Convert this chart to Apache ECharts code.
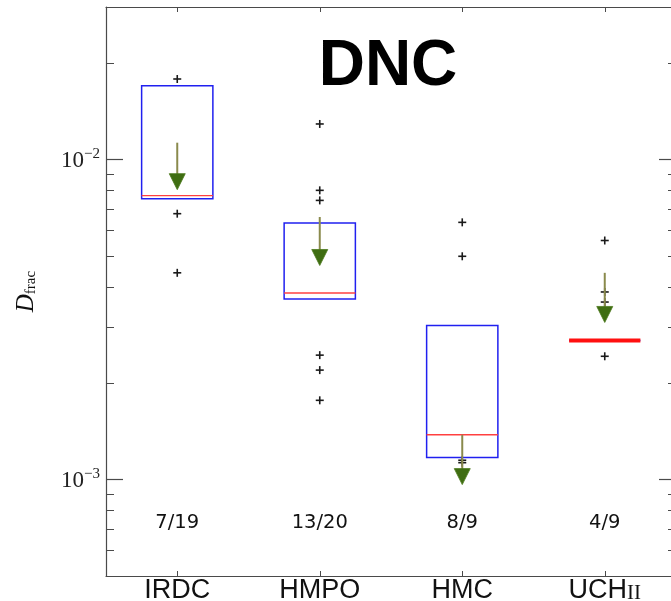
<!DOCTYPE html>
<html>
<head>
<meta charset="utf-8">
<script src="https://cdn.jsdelivr.net/npm/echarts@6/dist/echarts.min.js"></script>
<style>
  html, body { margin: 0; padding: 0; background: #fff; }
  #chart { width: 671px; height: 601px; }
</style>
</head>
<body>
<div id="chart"></div>
<script>
// Source classes along the evolutionary sequence
const categories = ['IRDC', 'HMPO', 'HMC', 'UCHII'];
// Detection statistics printed under each class
const detections = ['7/19', '13/20', '8/9', '4/9'];

// Box edges (lower / upper quartile) and medians of D_frac
const boxLower = [0.00755, 0.00367, 0.001174, 0.00272];
const boxUpper = [0.01702, 0.00634, 0.00303, 0.00272];
const medians  = [0.00772, 0.00383, 0.001382, 0.00272];

// Individual sources, drawn as crosses
const irdcPoints  = [0.01787, 0.00678, 0.00443];
const hmpoPoints  = [0.01293, 0.00802, 0.00746, 0.00245, 0.00220, 0.00177];
const hmcPoints   = [0.00637, 0.00499, 0.00115, 0.00113];
const uchiiPoints = [0.00559, 0.00386, 0.00359, 0.00243];

// Upper-limit arrows: start value and tip value
const limitFrom = [0.01130, 0.00662, 0.001382, 0.00443];
const limitTo   = [0.00806, 0.00467, 0.000965, 0.00310];

// Log axis range and labelled decades
const yMin = 5e-4;
const yMax = 3e-2;
const majorTicks = [1e-3, 1e-2];

// Minor ticks at 2..9 times each decade inside the axis range
const minorTicks = [];
for (let d = -4; d <= -2; d++) {
  for (let m = 2; m <= 9; m++) {
    const v = m * Math.pow(10, d);
    if (v >= yMin * 0.999 && v <= yMax * 1.001) minorTicks.push(v);
  }
}

const pointSets = [irdcPoints, hmpoPoints, hmcPoints, uchiiPoints];
const pointData = [];
pointSets.forEach((arr, i) => arr.forEach(v => pointData.push([i, v])));

const boxData = categories.map((c, i) => [i, boxLower[i], boxUpper[i], medians[i]]);
const limitData = categories.map((c, i) => [i, limitFrom[i], limitTo[i]]);
const countData = categories.map((c, i) => [i, detections[i]]);

const frameColor = '#4a4a4a';

const chart = echarts.init(document.getElementById('chart'), null, { renderer: 'canvas' });

function yAxisBase(extra) {
  return Object.assign({
    type: 'log',
    logBase: 10,
    min: yMin,
    max: yMax,
    splitLine: { show: false },
    minorTick: { show: false },
    axisLine: { show: false }
  }, extra);
}

const option = {
  backgroundColor: '#ffffff',
  animation: false,
  title: {
    text: 'DNC',
    left: 388,
    top: 35,
    padding: 0,
    textAlign: 'center',
    textStyle: {
      fontFamily: 'Liberation Sans, Arial, sans-serif',
      fontWeight: 'bold',
      fontSize: 64,
      color: '#000'
    }
  },
  grid: {
    left: 106,
    right: -5,
    top: 7,
    bottom: 25,
    containLabel: false,
    outerBoundsMode: 'none',
    show: false
  },
  xAxis: [
    {
      type: 'category',
      data: categories,
      position: 'bottom',
      boundaryGap: true,
      axisLine: { show: true, onZero: false, lineStyle: { color: frameColor, width: 1.2 } },
      axisTick: { show: true, inside: true, alignWithLabel: true, length: 5, lineStyle: { color: frameColor } },
      axisLabel: {
        margin: 1,
        interval: 0,
        formatter: v => v === 'UCHII' ? '{n|UCH}{s|II}' : '{n|' + v + '}',
        rich: {
          n: { fontFamily: 'Liberation Sans, Arial, sans-serif', fontSize: 27, color: '#111', lineHeight: 27, verticalAlign: 'bottom' },
          s: { fontFamily: 'Liberation Serif, Times New Roman, serif', fontSize: 21, color: '#111', lineHeight: 27, verticalAlign: 'bottom' }
        }
      },
      splitLine: { show: false }
    },
    {
      type: 'category',
      data: categories,
      position: 'top',
      boundaryGap: true,
      axisLine: { show: true, onZero: false, lineStyle: { color: frameColor, width: 1.2 } },
      axisTick: { show: true, inside: true, alignWithLabel: true, length: 5, lineStyle: { color: frameColor } },
      axisLabel: { show: false },
      splitLine: { show: false }
    }
  ],
  yAxis: [
    yAxisBase({
      position: 'left',
      axisLine: { show: true, onZero: false, lineStyle: { color: frameColor, width: 1.2 } },
      axisTick: { show: true, inside: true, length: 17, customValues: majorTicks, lineStyle: { color: frameColor, width: 1.2 } },
      axisLabel: {
        show: true,
        margin: 6,
        customValues: majorTicks,
        formatter: v => {
          const e = Math.round(Math.log10(v));
          return '{b|10}{e|\u2212' + Math.abs(e) + '}';
        },
        rich: {
          b: { fontFamily: 'Liberation Serif, Times New Roman, serif', fontSize: 23, color: '#222', lineHeight: 26, verticalAlign: 'bottom' },
          e: { fontFamily: 'Liberation Serif, Times New Roman, serif', fontSize: 15, color: '#222', lineHeight: 26, verticalAlign: 'top' }
        }
      },
      name: '{d|D}{s|frac}',
      nameLocation: 'middle',
      nameRotate: 90,
      nameGap: 67,
      nameTextStyle: {
        rich: {
          d: { fontFamily: 'Liberation Serif, Times New Roman, serif', fontStyle: 'italic', fontSize: 25, color: '#111', lineHeight: 26, verticalAlign: 'bottom' },
          s: { fontFamily: 'Liberation Serif, Times New Roman, serif', fontSize: 15, color: '#111', lineHeight: 20, verticalAlign: 'bottom' }
        }
      }
    }),
    yAxisBase({
      position: 'left',
      axisTick: { show: true, inside: true, length: 8, customValues: minorTicks, lineStyle: { color: frameColor, width: 1 } },
      axisLabel: { show: false }
    }),
    yAxisBase({
      position: 'right',
      axisLine: { show: true, onZero: false, lineStyle: { color: frameColor, width: 1.2 } },
      axisTick: { show: true, inside: true, length: 17, customValues: majorTicks, lineStyle: { color: frameColor, width: 1.2 } },
      axisLabel: { show: false }
    }),
    yAxisBase({
      position: 'right',
      axisTick: { show: true, inside: true, length: 8, customValues: minorTicks, lineStyle: { color: frameColor, width: 1 } },
      axisLabel: { show: false }
    })
  ],
  series: [
    {
      // quartile boxes with their median lines
      type: 'custom',
      name: 'boxes',
      xAxisIndex: 0,
      yAxisIndex: 0,
      data: boxData,
      z: 3,
      renderItem: (params, api) => {
        const i = api.value(0);
        const lo = api.coord([i, api.value(1)]);
        const hi = api.coord([i, api.value(2)]);
        const md = api.coord([i, api.value(3)]);
        const half = api.size([1, 0])[0] * 0.25;
        const flat = Math.abs(lo[1] - hi[1]) < 1;
        return {
          type: 'group',
          children: [
            {
              type: 'rect',
              shape: { x: lo[0] - half, y: hi[1], width: half * 2, height: lo[1] - hi[1] },
              style: { fill: 'none', stroke: '#2020f0', lineWidth: 1.5 }
            },
            {
              type: 'line',
              shape: { x1: md[0] - half, y1: md[1], x2: md[0] + half, y2: md[1] },
              style: { stroke: flat ? '#ff1010' : '#ff4040', lineWidth: flat ? 4 : 1.4 }
            }
          ]
        };
      }
    },
    {
      // individual sources
      type: 'custom',
      name: 'sources',
      xAxisIndex: 0,
      yAxisIndex: 0,
      data: pointData,
      z: 4,
      renderItem: (params, api) => {
        const p = api.coord([api.value(0), api.value(1)]);
        const r = 4;
        return {
          type: 'group',
          children: [
            { type: 'line', shape: { x1: p[0] - r, y1: p[1], x2: p[0] + r, y2: p[1] }, style: { stroke: '#1a1a1a', lineWidth: 1.6 } },
            { type: 'line', shape: { x1: p[0], y1: p[1] - r, x2: p[0], y2: p[1] + r }, style: { stroke: '#1a1a1a', lineWidth: 1.6 } }
          ]
        };
      }
    },
    {
      // upper-limit arrows
      type: 'custom',
      name: 'limits',
      xAxisIndex: 0,
      yAxisIndex: 0,
      data: limitData,
      z: 5,
      renderItem: (params, api) => {
        const i = api.value(0);
        const a = api.coord([i, api.value(1)]);
        const b = api.coord([i, api.value(2)]);
        const h = 16, w = 8;
        return {
          type: 'group',
          children: [
            { type: 'line', shape: { x1: a[0], y1: a[1], x2: b[0], y2: b[1] - h + 2 }, style: { stroke: '#8a8a4c', lineWidth: 2 } },
            { type: 'polygon', shape: { points: [[b[0] - w, b[1] - h], [b[0] + w, b[1] - h], [b[0], b[1]]] }, style: { fill: '#3f6d12', stroke: '#4b7a1c', lineWidth: 0.8 } }
          ]
        };
      }
    },
    {
      // detection counts under each box
      type: 'custom',
      name: 'counts',
      xAxisIndex: 0,
      yAxisIndex: 0,
      data: countData,
      z: 5,
      renderItem: (params, api) => {
        const i = api.value(0);
        const x = api.coord([i, yMin])[0];
        const cs = params.coordSys;
        return {
          type: 'text',
          x: x,
          y: cs.y + cs.height - 53,
          style: {
            text: detections[i],
            fontFamily: 'DejaVu Sans, sans-serif',
            fontSize: 19.5,
            fill: '#111',
            textAlign: 'center',
            textVerticalAlign: 'middle'
          }
        };
      }
    }
  ]
};

chart.setOption(option);
</script>
</body>
</html>
